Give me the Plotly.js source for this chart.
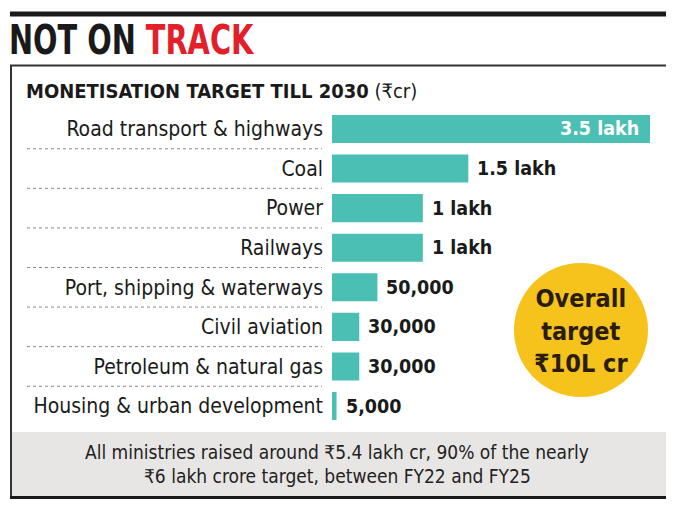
<!DOCTYPE html>
<html><head><meta charset="utf-8">
<script src="https://cdn.plot.ly/plotly-3.0.1.min.js"></script>
<style>html,body{margin:0;padding:0;background:#fff}</style>
</head><body><div id="chart" style="width:680px;height:510px"></div>
<script>
const categories = ["Road transport & highways","Coal","Power","Railways","Port, shipping & waterways","Civil aviation","Petroleum & natural gas","Housing & urban development"];
const values = [350000,150000,100000,100000,50000,30000,30000,5000];
const valueLabels = ["3.5 lakh","1.5 lakh","1 lakh","1 lakh","50,000","30,000","30,000","5,000"];
const titleText = "NOT ON <span style='color:#e3202a'>TRACK</span>";
const subtitleText = "<b>MONETISATION TARGET TILL 2030</b> (₹cr)";
const badgeText = "Overall<br>target<br>₹10L cr";
const footerLines = ["All ministries raised around ₹5.4 lakh cr, 90% of the nearly","₹6 lakh crore target, between FY22 and FY25"];

const W = 680, H = 510;
const px = x => x / W, py = y => 1 - y / H;
const FONT = "'Liberation Sans Narrow', 'DejaVu Sans Condensed', 'Arial Narrow', sans-serif";

const trace = {
  type: 'bar', orientation: 'h', y: categories, x: values,
  marker: {color: '#4bbfb4'}, hoverinfo: 'none'
};

const annotations = [];
values.forEach((v, i) => {
  const inside = i === 0;
  annotations.push({
    xref: 'x', yref: 'y', x: v, y: categories[i], text: '<b>' + valueLabels[i] + '</b>',
    showarrow: false, xanchor: inside ? 'right' : 'left', xshift: inside ? -9 : 7,
    font: {family: FONT, size: 19.5, color: inside ? '#ffffff' : '#1a1a1a'}
  });
});
annotations.push({xref:'paper', yref:'paper', x: px(7), y: py(40), xanchor:'left', yanchor:'middle',
  text: '<b>' + titleText + '</b>', showarrow:false, font:{family: FONT, size: 40, color:'#1a1a1a'}, name:'title'});
annotations.push({xref:'paper', yref:'paper', x: px(24), y: py(91), xanchor:'left', yanchor:'middle',
  text: subtitleText, showarrow:false, font:{family: FONT, size: 20, color:'#1a1a1a'}});
annotations.push({xref:'paper', yref:'paper', x: px(581), y: py(331), xanchor:'center', yanchor:'middle',
  text: '<b>' + badgeText + '</b>', showarrow:false, font:{family: FONT, size: 25, color:'#2b1d0e'}});
footerLines.forEach((t, i) => annotations.push({xref:'paper', yref:'paper', x: px(337), y: py(452 + i*24),
  xanchor:'center', yanchor:'middle', text: t, showarrow:false, font:{family: FONT, size: 19, color:'#222'}}));

const shapes = [];
shapes.push({type:'rect', xref:'paper', yref:'paper', x0:px(11), x1:px(666), y0:py(497), y1:py(432), fillcolor:'#e8e6e4', line:{width:0}, layer:'below'});
shapes.push({type:'line', xref:'paper', yref:'paper', x0:px(10), x1:px(666), y0:py(14), y1:py(14), line:{color:'#1a1a1a', width:5}});
shapes.push({type:'line', xref:'paper', yref:'paper', x0:px(10), x1:px(666), y0:py(65.5), y1:py(65.5), line:{color:'#333', width:2}});
shapes.push({type:'line', xref:'paper', yref:'paper', x0:px(11), x1:px(11), y0:py(65), y1:py(498), line:{color:'#333', width:2}});
shapes.push({type:'line', xref:'paper', yref:'paper', x0:px(10), x1:px(666), y0:py(497.5), y1:py(497.5), line:{color:'#1a1a1a', width:3}});
for (let i = 0; i < categories.length - 1; i++) {
  shapes.push({type:'line', xref:'paper', yref:'y', x0:px(27), x1:px(322), y0:i+0.5, y1:i+0.5, line:{color:'#8a8a8a', width:1, dash:'dot'}});
}
shapes.push({type:'circle', xref:'paper', yref:'paper', x0:px(514), x1:px(648), y0:py(397), y1:py(263), fillcolor:'#f6c21c', line:{width:0}});

const layout = {
  width: W, height: H, margin:{l:0,r:0,t:0,b:0},
  paper_bgcolor:'#fff', plot_bgcolor:'rgba(0,0,0,0)', showlegend:false,
  bargap: 0.29,
  xaxis: {domain:[px(332), px(650)], range:[0, 350000], visible:false, fixedrange:true},
  yaxis: {domain:[1-425.8/H, 1-109.2/H], range:[7.5,-0.5], type:'category', showgrid:false, zeroline:false,
    showline:false, ticks:'', ticklabelstandoff:8, tickfont:{family: FONT, size: 21, color:'#1a1a1a'}, fixedrange:true},
  annotations, shapes
};
Plotly.newPlot('chart', [trace], layout, {displayModeBar:false, staticPlot:true}).then(gd => {
  // condense the headline horizontally, like the reference's narrow display face
  const idx = annotations.findIndex(a => a.name === 'title');
  const g = gd.querySelector('.annotation[data-index="' + idx + '"] text');
  if (g) {
    g.style.transformBox = 'fill-box';
    g.style.transformOrigin = 'left center';
    g.style.transform = 'scaleX(0.8)';
  }
});
</script></body></html>
